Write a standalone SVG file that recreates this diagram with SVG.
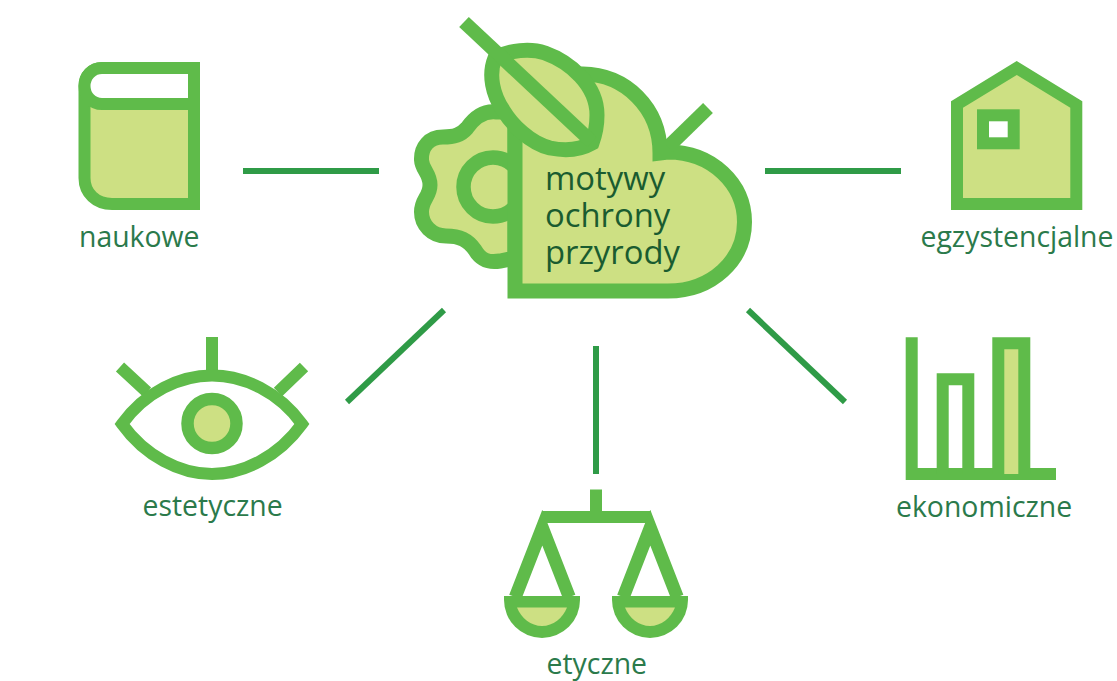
<svg xmlns="http://www.w3.org/2000/svg" width="1117" height="681" viewBox="0 0 1117 681">
<style>
.s{fill:none;stroke:#5fbb4a;stroke-width:12;stroke-miterlimit:10}
.f{fill:#cde083;stroke:#5fbb4a;stroke-width:12;stroke-miterlimit:10}
.w{fill:#fff;stroke:#5fbb4a;stroke-width:12;stroke-miterlimit:10}
.g{fill:#5fbb4a}
.l{fill:#cde083}
.t{font-family:"Open Sans","Noto Sans",sans-serif;font-size:28.4px;fill:#2b7a4b}
.c{font-family:"Open Sans","Noto Sans",sans-serif;font-size:32.8px;fill:#1a5c30}
.k{stroke:#2f9b47;stroke-width:6;fill:none}
</style>
<rect width="1117" height="681" fill="#fff"/>
<g id="connectors">
<path class="k" d="M243,171H379"/>
<path class="k" d="M765,171H901"/>
<path class="k" d="M444,310L347,402"/>
<path class="k" d="M748,310L845,402"/>
<path class="k" d="M596,346V474"/>
</g>
<g id="center">
<path class="f" style="stroke-width:15" d="M497,112 C483,110 474,118 467,128 C461,135 454,137 443,137 C429,137 421,147 421.500,160 C422,170 430,173 430,185 C430,197 421.500,199 421.500,212 C421.500,225 432,236 446,236 C460,236 468,240 475,250 C481,260 488,263 500,261 L515,258 V112Z"/>
<circle class="f" style="stroke-width:14.500" cx="493" cy="187" r="29.500"/>
<path class="f" style="stroke-width:15" d="M515,291 H668 C712,291 744.500,260 744.500,222 C744.500,184 712,152 668,152 L660,153 C660,108 625,74 583,74 L515,120 Z"/>
<path class="s" style="stroke-width:14" d="M708,108L668,147"/>
<path class="f" style="stroke-width:15" d="M495,58 C510,50 530,48 545,53 C570,62 597,85 597,115 C597,125 595,135 592,143 C580,150 565,151 550,148 C530,143 512,125 503,110 C493,95 488,75 495,58Z"/>
<path class="s" style="stroke-width:14" d="M464,22L592,142"/>
<text class="c" x="545" y="190">motywy</text>
<text class="c" x="545" y="227">ochrony</text>
<text class="c" x="545" y="264">przyrody</text>
</g>
<g id="naukowe">
<path class="f" d="M194,68 H102 C92,68 84.500,76 84.500,86 V178 C84.500,193 96,204 112,204 H194Z"/>
<path class="w" d="M194,68 H102 C92,68 84.500,76 84.500,86 C84.500,96 92,104 102,104 H194Z"/>
<text class="t" x="79" y="246.500">naukowe</text>
</g>
<g id="egzystencjalne">
<path class="f" d="M957,104.500 L1016.700,68 L1076.300,104.500 V204 H957Z"/>
<rect class="w" x="983" y="115.300" width="30.700" height="28"/>
<text class="t" x="920.500" y="246.500">egzystencjalne</text>
</g>
<g id="estetyczne">
<path class="s" d="M212,337V376M120,367L147,392M304,367L278,392"/>
<path class="s" d="M122,424 C145,392 180,375.500 212,375.500 C244,375.500 279,392 302,424 C279,456 244,474 212,474 C180,474 145,456 122,424Z"/>
<circle class="f" style="stroke-width:12.500" cx="212" cy="423.500" r="24.500"/>
<text class="t" x="142.500" y="515.500">estetyczne</text>
</g>
<g id="etyczne">
<path class="s" d="M596,489.500V517M542,517H651"/>
<path class="s" style="stroke-width:13" d="M515.300,597 L542.300,527.700 L569.300,597"/>
<path class="s" style="stroke-width:13" d="M623.300,597 L650.300,527.700 L677.300,597"/>
<path class="g" d="M504,596 H580 V600 A38,38 0 0 1 504,600Z"/>
<path class="l" d="M517,607.500 H567 C563,618 553,626 542,626 C531,626 521,618 517,607.500Z"/>
<path class="g" d="M612,596 H688 V600 A38,38 0 0 1 612,600Z"/>
<path class="l" d="M625,607.500 H675 C671,618 661,626 650,626 C639,626 629,618 625,607.500Z"/>
<text class="t" x="546.500" y="673.500">etyczne</text>
</g>
<g id="ekonomiczne">
<path class="s" d="M911.700,337.300 V474 H1056"/>
<path class="s" d="M942.700,474 V379.300 H968.300 V474"/>
<path class="f" d="M998.300,474 V343.300 H1024.300 V474"/>
<text class="t" x="896" y="516.500">ekonomiczne</text>
</g>
</svg>
